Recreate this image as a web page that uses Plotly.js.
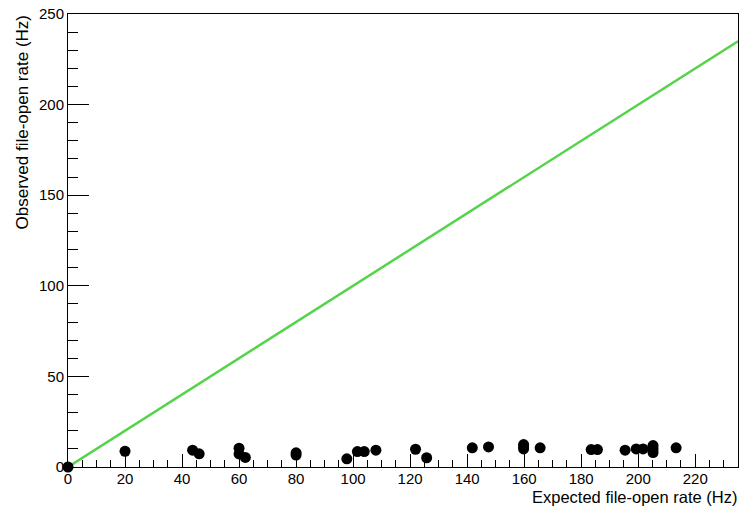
<!DOCTYPE html>
<html>
<head>
<meta charset="utf-8">
<script src="https://cdn.plot.ly/plotly-3.0.1.min.js"></script>
<style>html,body{margin:0;padding:0;background:#fff;}</style>
</head>
<body>
<div id="chart" style="width:739px;height:507px;"></div>
<script>
// Observed vs expected file-open rates (Hz)
const expectedRate = [0, 20, 43.7, 46, 60, 60, 62.2, 80, 80, 97.8, 101.5, 103.9, 108, 121.9, 125.8, 141.8, 147.5, 159.8, 159.8, 159.8, 165.6, 183.5, 185.7, 195.4, 199.3, 201.7, 205.2, 205.2, 205.2, 213.3];
const observedRate = [0, 8.7, 9.3, 7.3, 10.4, 7.2, 5.3, 7.8, 6.6, 4.5, 8.5, 8.5, 9.3, 9.8, 5.1, 10.6, 11.1, 12.4, 11.2, 10, 10.6, 9.6, 9.6, 9.3, 10, 10, 11.8, 10, 8, 10.6];
// ideal line: observed = expected
const idealX = [0, 235];
const idealY = [0, 235];

const xTitle = "Expected file-open rate (Hz)";
const yTitle = "Observed file-open rate (Hz)";

const font = {family: "Arial, 'Liberation Sans', sans-serif", size: 15, color: "#000"};
const titleFont = {family: font.family, size: 16.5, color: "#000"};

const traces = [
  {
    x: idealX, y: idealY, type: "scatter", mode: "lines",
    line: {color: "#55d34a", width: 2.5}, hoverinfo: "skip", cliponaxis: true
  },
  {
    x: expectedRate, y: observedRate, type: "scatter", mode: "markers",
    marker: {color: "#000", size: 11, symbol: "circle"}, cliponaxis: false
  }
];

const plotH = 507 - 14 - 40;

const layout = {
  width: 739, height: 507,
  margin: {l: 68, r: 1, t: 14, b: 40, pad: 0},
  paper_bgcolor: "#fff", plot_bgcolor: "#fff",
  showlegend: false,
  font: font,
  xaxis: {
    range: [0, 235], showgrid: false, zeroline: false,
    showline: true, linecolor: "#000", linewidth: 1, mirror: true,
    ticks: "inside", ticklen: 13, tickwidth: 1, tickcolor: "#000",
    tick0: 0, dtick: 20, tickfont: font, ticklabelstandoff: -2,
    minor: {dtick: 5, ticks: "inside", ticklen: 7, tickcolor: "#000", tickwidth: 1, showgrid: false}
  },
  yaxis: {
    range: [0, 250], showgrid: false, zeroline: false,
    showline: true, linecolor: "#000", linewidth: 1, mirror: true,
    ticks: "inside", ticklen: 21, tickwidth: 1, tickcolor: "#000",
    tick0: 0, dtick: 50, tickfont: font,
    minor: {dtick: 10, ticks: "inside", ticklen: 10, tickcolor: "#000", tickwidth: 1, showgrid: false}
  },
  annotations: [
    {text: xTitle, xref: "paper", yref: "paper", x: 1, y: -40 / plotH, xanchor: "right", yanchor: "bottom",
     borderpad: 0, showarrow: false, font: titleFont},
    {text: yTitle, xref: "paper", yref: "paper", x: 0, y: 1, xanchor: "left", yanchor: "top",
     xshift: -58, textangle: -90, showarrow: false, font: {family: font.family, size: 17, color: "#000"}}
  ]
};

Plotly.newPlot("chart", traces, layout, {displayModeBar: false, staticPlot: true});
</script>
</body>
</html>
